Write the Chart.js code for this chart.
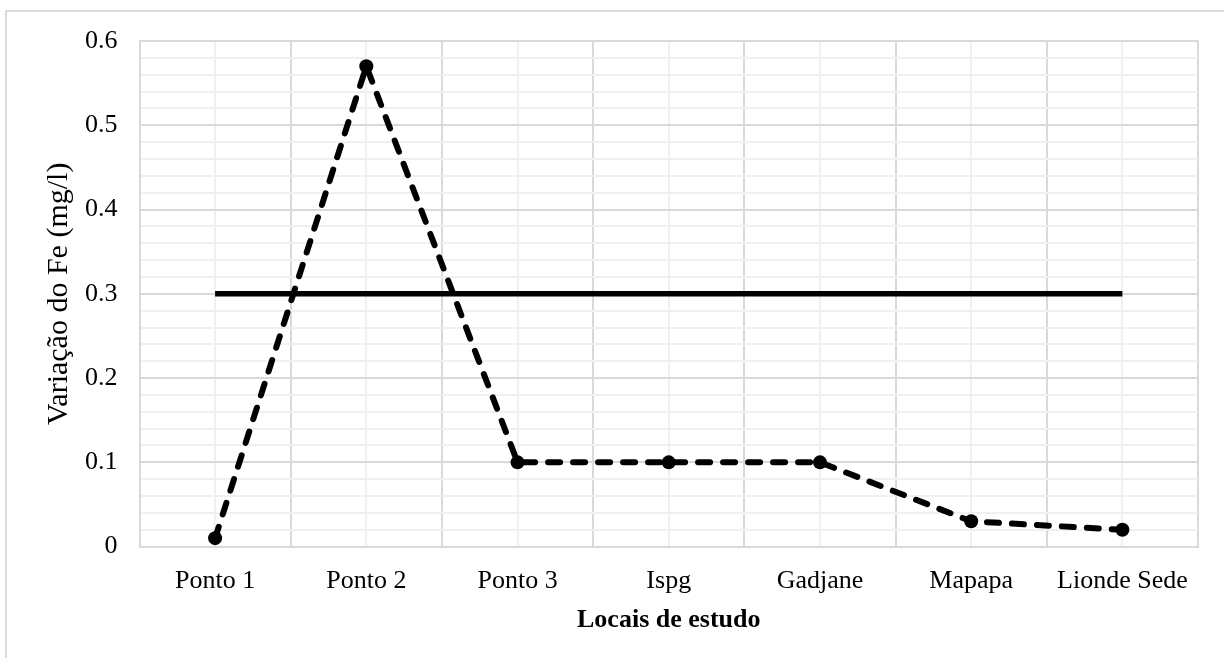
<!DOCTYPE html>
<html>
<head>
<meta charset="utf-8">
<script src="https://cdn.jsdelivr.net/npm/chart.js@4/dist/chart.umd.min.js"></script>
<style>
  html, body { margin: 0; padding: 0; background: #fff; }
  #wrap { position: relative; width: 1224px; height: 658px; }
</style>
</head>
<body>
<div id="wrap"><canvas id="feChart" width="1224" height="658"></canvas></div>
<script>
// Locais de amostragem e teores de ferro (mg/l)
const locais = ["Ponto 1", "Ponto 2", "Ponto 3", "Ispg", "Gadjane", "Mapapa", "Lionde Sede"];
const ferro = [0.01, 0.57, 0.1, 0.1, 0.1, 0.03, 0.02];
const limite = [0.3, 0.3, 0.3, 0.3, 0.3, 0.3, 0.3];
const yTicks = [0, 0.1, 0.2, 0.3, 0.4, 0.5, 0.6];

const serif = "'Liberation Serif', 'Times New Roman', serif";

// pontos ao centro de cada categoria num eixo linear 0..N
const xy = arr => arr.map((v, i) => ({ x: i + 0.5, y: v }));

// moldura cinzenta do gráfico
const frame = {
  id: "frame",
  beforeDraw(chart) {
    const ctx = chart.ctx;
    ctx.save();
    ctx.fillStyle = "#fff";
    ctx.fillRect(0, 0, chart.width, chart.height);
    ctx.strokeStyle = "#d9d9d9";
    ctx.lineWidth = 2;
    ctx.strokeRect(6, 11, chart.width + 20, chart.height + 20);
    ctx.restore();
  }
};

new Chart(document.getElementById("feChart"), {
  type: "line",
  data: {
    datasets: [
      {
        label: "Fe",
        data: xy(ferro),
        borderColor: "#000",
        backgroundColor: "#000",
        borderWidth: 6,
        borderDash: [12, 13],
        borderCapStyle: "round",
        pointRadius: 7,
        pointHoverRadius: 7,
        pointBorderWidth: 0,
        tension: 0
      },
      {
        label: "Limite",
        data: xy(limite),
        borderColor: "#000",
        borderWidth: 5.5,
        pointRadius: 0,
        tension: 0
      }
    ]
  },
  options: {
    responsive: false,
    animation: false,
    layout: { padding: { left: 41, top: 41, right: 26, bottom: 22 } },
    plugins: { legend: { display: false }, tooltip: { enabled: false } },
    scales: {
      x: {
        type: "linear",
        min: 0,
        max: locais.length,
        border: { color: "#d9d9d9", width: 2 },
        grid: {
          drawTicks: false,
          lineWidth: 2,
          color: c => (c.tick && c.tick.value % 1 === 0) ? "#d9d9d9" : "#f0f0f0"
        },
        ticks: {
          stepSize: 0.5,
          autoSkip: false,
          maxRotation: 0,
          padding: 19,
          color: "#000",
          font: { family: serif, size: 26 },
          callback: v => (v % 1 === 0.5) ? locais[Math.floor(v)] : ""
        },
        title: {
          display: true,
          text: "Locais de estudo",
          color: "#000",
          padding: { top: -11, bottom: 0 },
          font: { family: serif, size: 26, weight: "bold" }
        }
      },
      y: {
        min: 0,
        max: 0.6,
        border: { color: "#d9d9d9", width: 2 },
        grid: {
          drawTicks: false,
          lineWidth: 2,
          color: c => (c.tick && Math.round(c.tick.value * 100) % 10 === 0) ? "#d9d9d9" : "#f0f0f0"
        },
        ticks: {
          stepSize: 0.02,
          autoSkip: false,
          padding: 22,
          color: "#000",
          font: { family: serif, size: 26 },
          callback: v => {
            const r = Math.round(v * 100);
            return r % 10 === 0 && yTicks.includes(r / 100) ? String(r / 100) : "";
          }
        },
        title: {
          display: true,
          text: "Variação do Fe (mg/l)",
          color: "#000",
          padding: { top: 0, bottom: -14 },
          font: { family: serif, size: 30 }
        }
      }
    }
  },
  plugins: [frame]
});
</script>
</body>
</html>
